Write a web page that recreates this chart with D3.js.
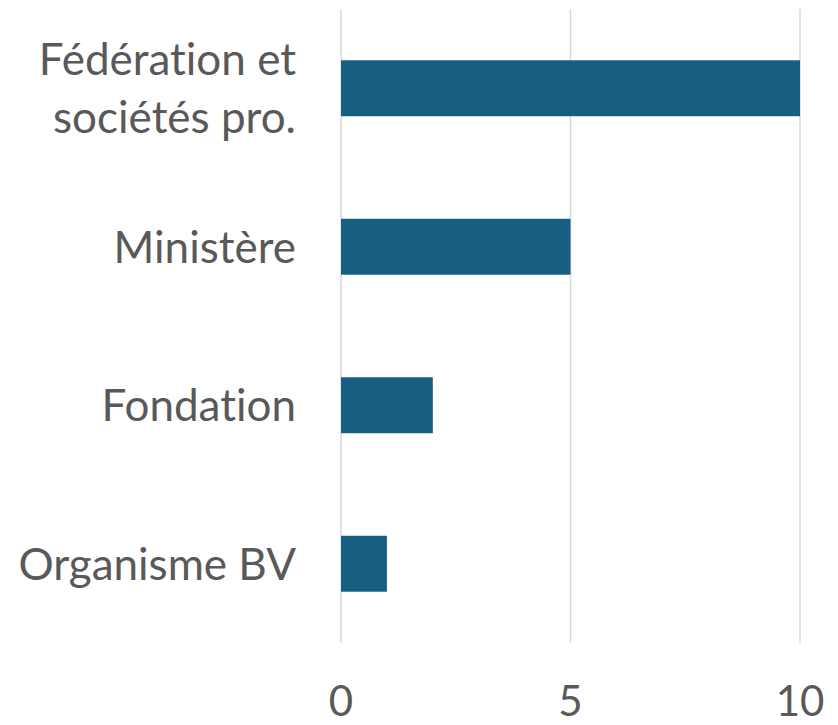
<!DOCTYPE html>
<html>
<head>
<meta charset="utf-8">
<script src="https://cdn.jsdelivr.net/npm/d3@7"></script>
<style>
  body { margin: 0; background: #fff; }
  text { font-family: Lato, "Open Sans", sans-serif; fill: #595959; font-variant-ligatures: none; }
</style>
</head>
<body>
<div id="chart"></div>
<script>
const categories = ["Fédération et\nsociétés pro.", "Ministère", "Fondation", "Organisme BV"];
const values = [10, 5, 2, 1];
const tickValues = [0, 5, 10];

const width = 838, height = 725;

const svg = d3.select("#chart")
    .append("svg")
    .attr("width", width)
    .attr("height", height);

const x = d3.scaleLinear()
    .domain([0, 10])
    .range([341, 800]);

const y = d3.scaleBand()
    .domain(categories)
    .range([9, 643])
    .paddingInner(0.647)
    .paddingOuter(0.3235);

// vertical gridlines
svg.append("g")
    .selectAll("line")
    .data(tickValues)
    .join("line")
    .attr("x1", d => x(d))
    .attr("x2", d => x(d))
    .attr("y1", 9)
    .attr("y2", 643)
    .attr("stroke", "#d9d9d9")
    .attr("stroke-width", 1.5);

// bars
svg.append("g")
    .selectAll("rect")
    .data(values)
    .join("rect")
    .attr("x", x(0))
    .attr("y", (d, i) => y(categories[i]))
    .attr("width", d => x(d) - x(0))
    .attr("height", y.bandwidth())
    .attr("fill", "#165F81");

// x tick labels
svg.append("g")
    .selectAll("text")
    .data(tickValues)
    .join("text")
    .attr("x", d => x(d))
    .attr("y", 716)
    .attr("text-anchor", "middle")
    .style("font-size", "42px")
    .text(d => d);

// category labels
const labels = svg.append("g")
    .selectAll("text")
    .data(categories)
    .join("text")
    .attr("text-anchor", "end")
    .style("font-size", "44px")
    .attr("y", d => {
        const n = d.split("\n").length;
        return y(d) + y.bandwidth() / 2 + 16 - (n - 1) * 29;
    });

labels.selectAll("tspan")
    .data(d => d.split("\n"))
    .join("tspan")
    .attr("x", 296)
    .attr("dy", (d, i) => i === 0 ? 0 : 58)
    .text(d => d);
</script>
</body>
</html>
